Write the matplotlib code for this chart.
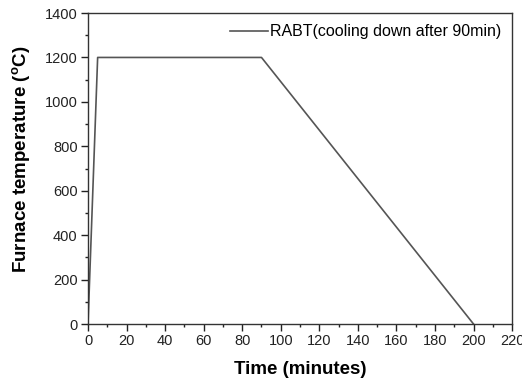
import matplotlib.pyplot as plt
from matplotlib.ticker import MultipleLocator

plt.rcParams['font.family'] = ['Liberation Sans', 'DejaVu Sans']

time_min = [0, 5, 90, 200]
temp_c = [0, 1200, 1200, 0]
label = 'RABT(cooling down after 90min)'

fig = plt.figure(figsize=(5.22, 3.83), dpi=100)
ax = fig.add_axes([0.1686, 0.154, 0.8124, 0.812])

ax.plot(time_min, temp_c, color='#555555', lw=1.2, label=label)

ax.set_xlim(0, 220)
ax.set_ylim(0, 1400)
ax.xaxis.set_major_locator(MultipleLocator(20))
ax.xaxis.set_minor_locator(MultipleLocator(10))
ax.yaxis.set_major_locator(MultipleLocator(200))
ax.yaxis.set_minor_locator(MultipleLocator(100))
ax.tick_params(which='both', direction='out', top=False, right=False,
               labelsize=10.5, colors='#222222')
ax.tick_params(which='major', length=5, width=1, pad=2.5)
ax.tick_params(which='minor', length=2.5, width=1)
for s in ax.spines.values():
    s.set_linewidth(1)
    s.set_color('#333333')

ax.set_xlabel('Time (minutes)', fontsize=13.5, fontweight='bold', labelpad=9)
ax.set_ylabel('Furnace temperature ($^\\mathregular{o}$C)', fontsize=13.5,
              fontweight='bold')
ax.yaxis.set_label_coords(-0.13, 0.53)

ax.legend(loc='upper right', frameon=False, fontsize=11.5, handlelength=2.4,
          handletextpad=0.1, borderaxespad=0.3)

fig.savefig('out.png', dpi=100)
